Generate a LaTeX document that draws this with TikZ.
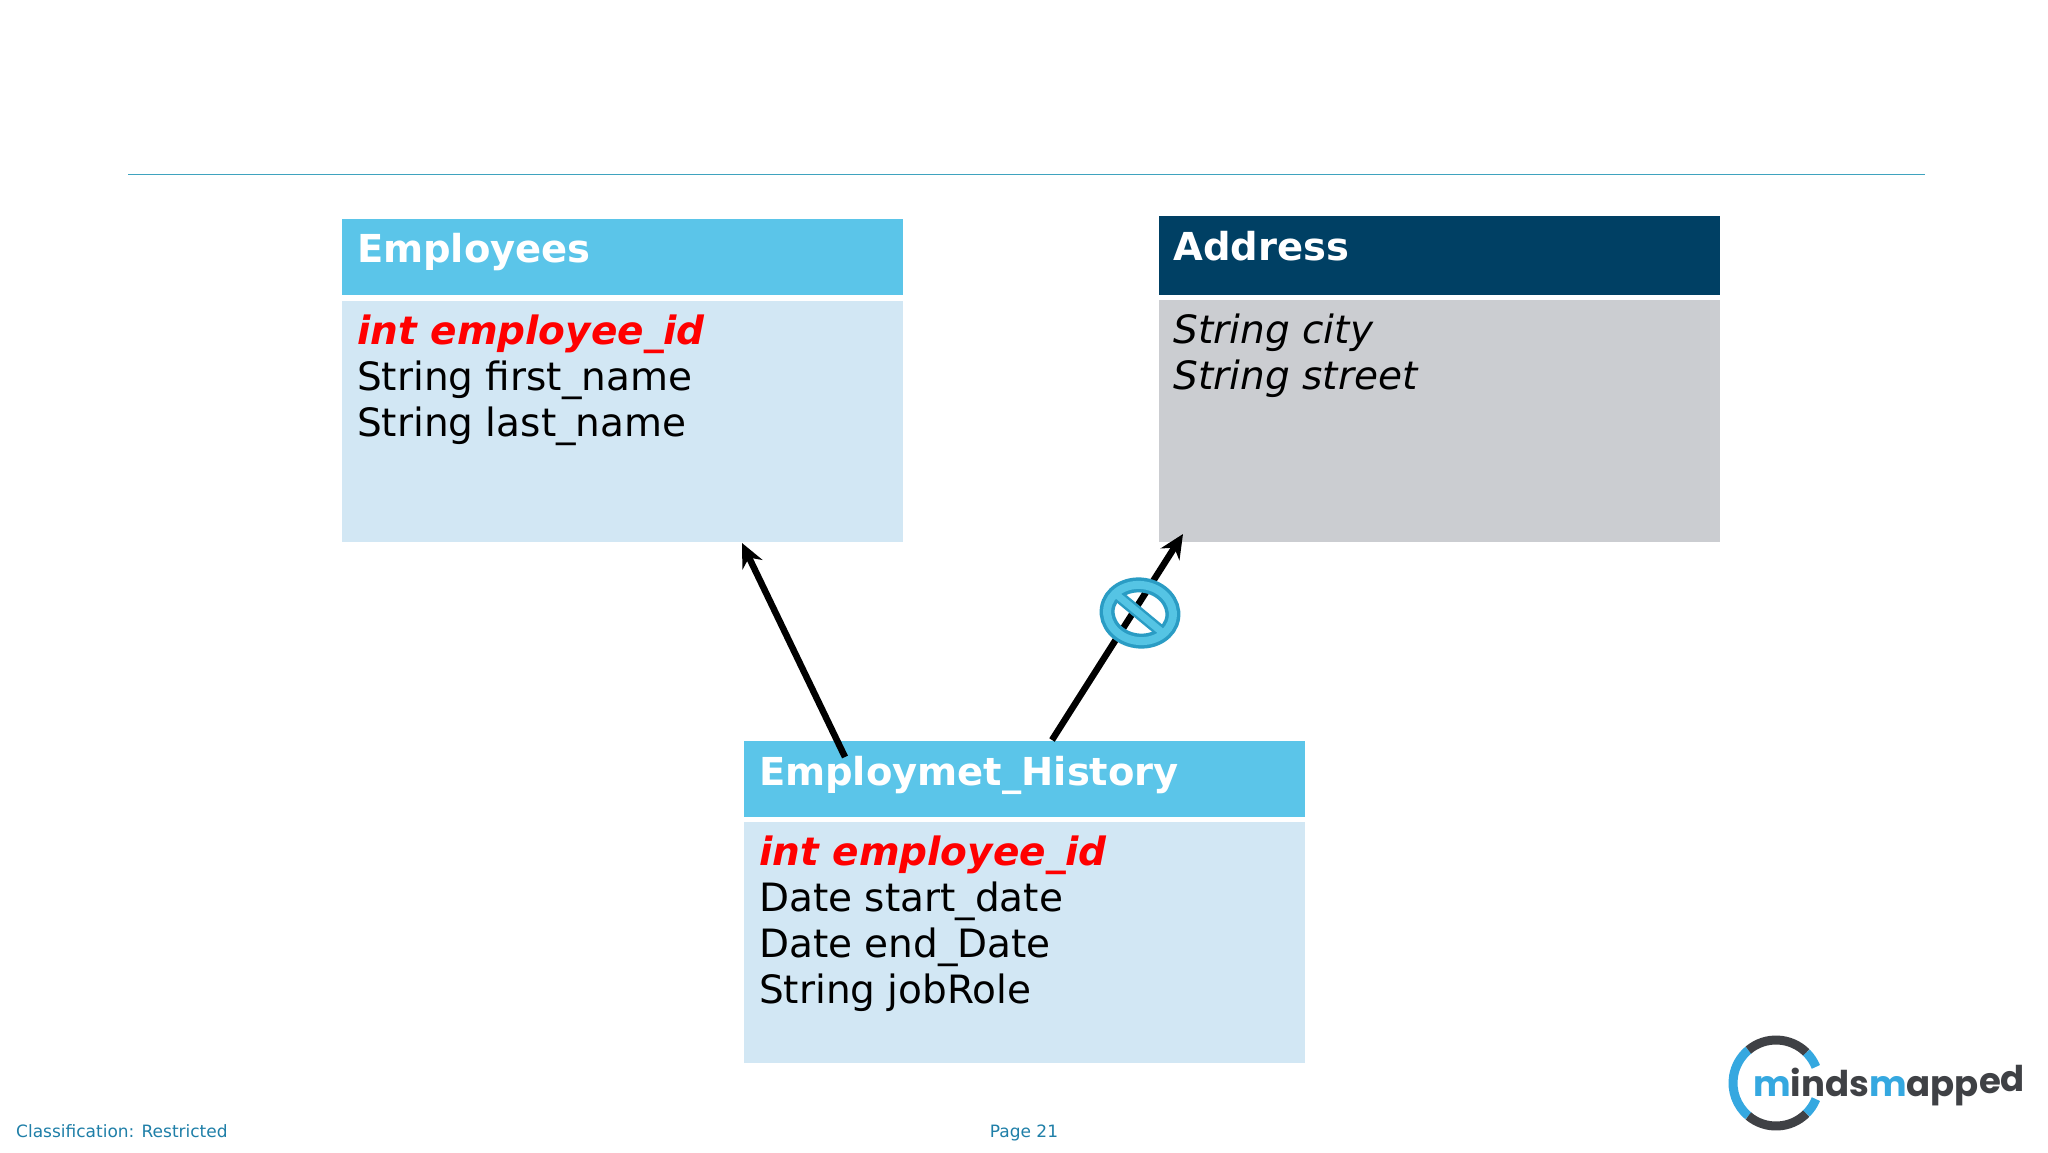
\documentclass[tikz,border=0pt]{standalone}
\usepackage{fontspec}
\setmainfont{DejaVu Sans}
\newfontfamily\logofont{Poppins}
\usetikzlibrary{arrows.meta}
\definecolor{headblue}{HTML}{5BC5E9}
\definecolor{bodyblue}{HTML}{D2E7F4}
\definecolor{headnavy}{HTML}{004064}
\definecolor{bodygrey}{HTML}{CBCDD1}
\definecolor{rulecol}{HTML}{3FA3BF}
\definecolor{footcol}{HTML}{1F7FA8}
\definecolor{logoblue}{HTML}{35A8E0}
\definecolor{logodark}{HTML}{3F4145}
\definecolor{signedge}{HTML}{2A9CC4}
\definecolor{signface}{HTML}{55C4E4}
\tikzset{
  box/.style={anchor=north west, inner sep=0pt, outer sep=0pt, minimum width=561pt},
  headbox/.style={box, inner xsep=15pt, text width=531pt, align=left, text=white,
    font=\fontsize{38.5}{44}\selectfont\bfseries, text height=44pt},
  bodybox/.style={box},
  fields/.style={anchor=north west, inner xsep=15pt, inner ysep=14pt, align=left,
    font=\fontsize{39}{46}\selectfont},
  foot/.style={text=footcol, font=\fontsize{17}{22}\selectfont, inner sep=0pt},
  link/.style={line width=6.5pt, -{Stealth[length=24pt,width=22pt]}},
  ringpart/.style={line width=9pt},
}
\newcommand{\keyfield}[1]{\textcolor{red}{\bfseries\itshape #1}}
\begin{document}
\begin{tikzpicture}[x=1pt,y=-1pt]
  \useasboundingbox [fill=white] (0,0) rectangle (2048,1152);
  \coordinate (ruleL) at (128,174.5);
  \coordinate (ruleR) at (1925,174.5);
  \draw [rulecol, line width=1.4pt] (ruleL) -- (ruleR);

  \node (emphead) [headbox, fill=headblue, text depth=32pt] at (342,218.5) {Employees};
  \node (empbody) [bodybox, fill=bodyblue, minimum height=241pt] at (342,300.5) {};
  \node (empfields) [fields] at (empbody.north west)
    {\keyfield{int employee\_id}\\String first\_name\\String last\_name};

  \node (addhead) [headbox, fill=headnavy, text height=45pt, text depth=34pt] at (1158.5,215.5) {Address};
  \node (addbody) [bodybox, fill=bodygrey, minimum height=242pt] at (1158.5,299.5) {};
  \node (addfields) [fields, font=\fontsize{39}{46}\selectfont\itshape] at (addbody.north west)
    {String city\\String street};

  \node (histhead) [headbox, fill=headblue, text height=45pt, text depth=31pt] at (744,740.5) {Employmet\_History};
  \node (histbody) [bodybox, fill=bodyblue, minimum height=241pt] at (744,822) {};
  \node (histfields) [fields] at (histbody.north west)
    {\keyfield{int employee\_id}\\Date start\_date\\Date end\_Date\\String jobRole};

  % links go up from the history table
  \coordinate (tipemp) at (742,543);
  \coordinate (tipadd) at (1183,534);
  \coordinate (fromemp) at (845,757);
  \coordinate (fromadd) at (1052,740);
  \draw [link] (fromemp) -- (tipemp);
  \draw [link] (fromadd) -- (tipadd);

  % no-entry sign on the address link
  \coordinate (signc) at (1140,613);
  \coordinate (barA) at (1117,595);
  \coordinate (barB) at (1163,633);
  \draw [signedge, line width=15pt, rotate around={-8:(signc)}] (signc) ellipse [x radius=33, y radius=28];
  \draw [signedge, line width=12pt] (barA) -- (barB);
  \draw [signface, line width=8pt, rotate around={-8:(signc)}] (signc) ellipse [x radius=33, y radius=28];
  \draw [signface, line width=7pt] (barA) -- (barB);

  \node (classif) [foot, anchor=base west] at (16,1137) {Classification: Restricted};
  \node (pagenum) [foot, anchor=base] at (1024,1137) {Page 21};

  % logo
  \coordinate (logoc) at (1776,1083);
  \draw [logoblue, ringpart] (logoc) ++(130:43) arc [start angle=130, end angle=230, radius=43];
  \draw [logodark, ringpart] (logoc) ++(45:43) arc [start angle=45, end angle=130, radius=43];
  \draw [logodark, ringpart] (logoc) ++(230:43) arc [start angle=230, end angle=315, radius=43];
  \draw [logoblue, ringpart] (logoc) ++(22:43) arc [start angle=22, end angle=45, radius=43];
  \draw [logoblue, ringpart] (logoc) ++(-45:43) arc [start angle=-45, end angle=-22, radius=43];
  \node (logotext) [inner sep=0pt, anchor=base west, font=\logofont\fontsize{35.5}{40}\selectfont\bfseries, text=logodark]
    at (1753,1096) {\textcolor{logoblue}{m}inds\textcolor{logoblue}{m}app\raisebox{3pt}{e}\raisebox{5pt}{d}};
\end{tikzpicture}
\end{document}
